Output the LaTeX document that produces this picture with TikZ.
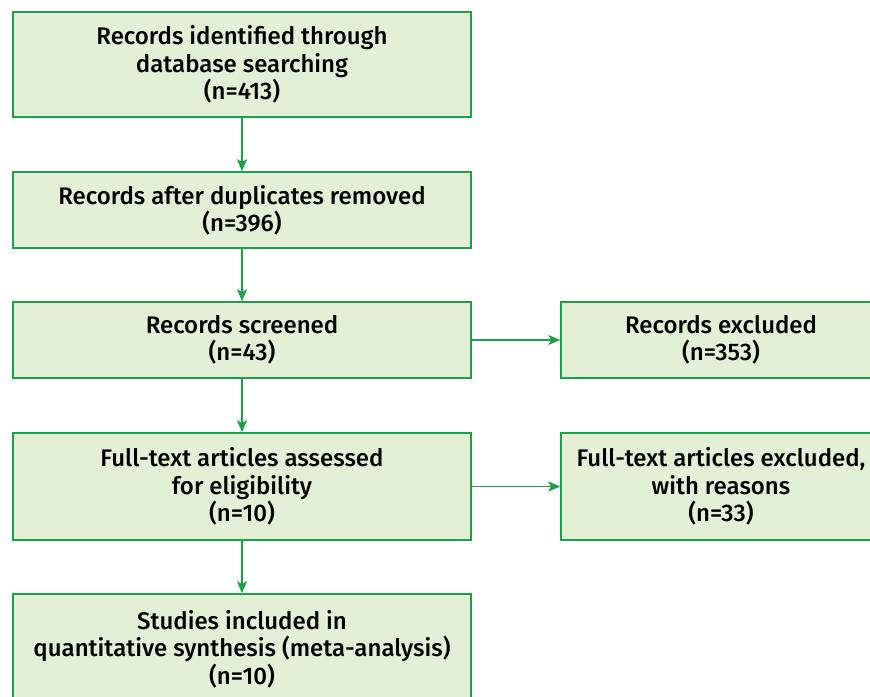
\documentclass[tikz,border=0pt]{standalone}
\usepackage{fontspec}
\setmainfont{Fira Sans Medium}
\usetikzlibrary{arrows.meta}
\definecolor{boxfill}{HTML}{E4F0D5}
\definecolor{boxline}{HTML}{1EA04A}
\begin{document}
\begin{tikzpicture}[x=0.75pt,y=-0.75pt,
  box/.style={draw=boxline, fill=boxfill, line width=1.1pt, align=center, inner sep=0pt,
    font=\fontsize{18}{20.6}\selectfont, minimum width=343.5pt,
    execute at begin node={\rule{0pt}{17pt}}},
  rbox/.style={box, minimum width=240pt},
  arr/.style={draw=boxline, line width=1.1pt, -{Stealth[length=9pt,width=7.5pt,inset=2pt]}}]
\useasboundingbox (0,0) rectangle (870,696);
\clip (0,0) rectangle (870,696);
\node[box, minimum height=78.75pt] (b1) at (242,64.5) {Records identified through\\database searching\\(n=413)};
\node[box, minimum height=57pt] (b2) at (242,210) {Records after duplicates removed\\(n=396)};
\node[box, minimum height=57pt] (b3) at (242,340) {Records screened\\(n=43)};
\node[box, minimum height=80.25pt] (b4) at (242,486.5) {Full-text articles assessed\\for eligibility\\(n=10)};
\node[box, minimum height=82.5pt] (b5) at (242,649) {Studies included in\\quantitative synthesis (meta-analysis)\\(n=10)};
\node[rbox, minimum height=57pt] (r1) at (721,340) {Records excluded\\(n=353)};
\node[rbox, minimum height=80.25pt] (r2) at (721,486.5) {Full-text articles excluded,\\with reasons\\(n=33)};
\draw[arr] (b1) -- (b2);
\draw[arr] (b2) -- (b3);
\draw[arr] (b3) -- (b4);
\draw[arr] (b4) -- (b5);
\draw[arr] (b3) -- (r1);
\draw[arr] (b4) -- (r2);
\end{tikzpicture}
\end{document}
